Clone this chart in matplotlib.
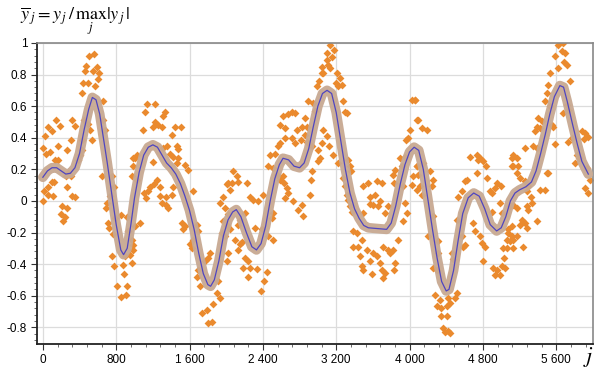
import numpy as np
import matplotlib
matplotlib.use('Agg')
import matplotlib.pyplot as plt
from matplotlib.ticker import MultipleLocator, FuncFormatter

# smoothed trend (blue line with grey band)
curve_j = [0, 50, 100, 150, 200, 250, 300, 350, 400, 450, 500, 540, 580, 620, 700, 750,
           800, 850, 880, 920, 960, 1000, 1050, 1100, 1150, 1200, 1250, 1300, 1350, 1400,
           1450, 1500, 1550, 1600, 1650, 1700, 1750, 1800, 1830, 1870, 1920, 1970, 2020,
           2070, 2110, 2160, 2220, 2280, 2330, 2380, 2430, 2480, 2530, 2580, 2620, 2680,
           2740, 2800, 2850, 2900, 2950, 3000, 3050, 3100, 3150, 3200, 3250, 3300, 3350,
           3400, 3450, 3500, 3550, 3650, 3750, 3800, 3850, 3900, 3950, 4000, 4050, 4100,
           4150, 4200, 4250, 4300, 4350, 4400, 4430, 4480, 4530, 4580, 4640, 4700, 4760,
           4820, 4880, 4950, 5000, 5050, 5100, 5150, 5200, 5270, 5330, 5380, 5430, 5480,
           5530, 5580, 5640, 5680, 5720, 5780, 5830, 5880, 5950]
curve_y = [0.15, 0.19, 0.21, 0.21, 0.19, 0.17, 0.175, 0.21, 0.30, 0.45, 0.58, 0.655, 0.64,
           0.55, 0.25, 0.05, -0.15, -0.31, -0.34, -0.30, -0.15, 0.02, 0.18, 0.29, 0.34,
           0.355, 0.34, 0.29, 0.24, 0.21, 0.17, 0.11, 0.03, -0.06, -0.18, -0.33, -0.46,
           -0.53, -0.54, -0.50, -0.38, -0.22, -0.12, -0.07, -0.055, -0.10, -0.20, -0.29,
           -0.31, -0.27, -0.16, 0.00, 0.14, 0.23, 0.27, 0.26, 0.22, 0.21, 0.24, 0.33, 0.47,
           0.60, 0.68, 0.70, 0.68, 0.56, 0.38, 0.20, 0.05, -0.05, -0.11, -0.155, -0.17,
           -0.175, -0.18, -0.14, -0.03, 0.11, 0.23, 0.31, 0.34, 0.32, 0.20, 0.01, -0.18,
           -0.36, -0.51, -0.57, -0.56, -0.44, -0.25, -0.08, 0.02, 0.05, 0.03, -0.05, -0.15,
           -0.19, -0.17, -0.10, 0.00, 0.05, 0.07, 0.09, 0.12, 0.19, 0.30, 0.42, 0.55, 0.66,
           0.73, 0.72, 0.63, 0.48, 0.36, 0.25, 0.17]

# raw normalised samples (orange diamonds)
pts_j = [
    503, 561, 466, 459, 586, 612, 550, 597, 441, 495, 568, 423, 659, 142, 59, 186, 102, 22,
    321, 350, 452, 495, 514, 532, 659, 677, 168, 259, 306, 423, 430, 0, 29, 77, 131, 168,
    386, 404, 641, 750, 776, 732, 277, 306, 95, 59, 124, 15, 59, 113, 0, 248, 259, 321, 350,
    204, 259, 197, 240, 222, 695, 684, 852, 914, 787, 706, 721, 768, 932, 750, 779, 896, 878,
    969, 889, 805, 914, 852, 903, 987,
    1131, 1222, 1113, 1332, 1313, 1222, 1259, 1295, 1204, 1441, 1502, 1404, 1088, 1022, 1004,
    986, 1350, 1313, 1459, 1477, 1386, 1422, 1477, 1459, 1204, 1550, 1586, 968, 1022, 1241,
    1211, 1277, 1168, 1150, 1102, 1124, 1277, 1342, 1404, 1422, 1295, 1368, 1342, 1641, 1059,
    1004, 1514, 1550, 1532, 1677, 1695, 968, 986, 979, 950, 1604, 1622, 1641, 1823, 1805,
    1768, 1950, 2005, 1968, 2023, 1986, 1932, 1968, 2005, 1695, 1677, 1714, 1914, 1895, 1932,
    1859, 1732, 1786, 1805, 1841,
    3041, 3059, 3012, 2986, 2896, 2950, 2623, 2714, 2750, 2677, 2968, 2859, 2586, 2641, 2768,
    2823, 2877, 2641, 2714, 2859, 2815, 2586, 2750, 2877, 2932, 3005, 2568, 2477, 2532, 2459,
    2514, 3023, 3005, 2550, 2623, 2586, 2634, 2022, 2041, 2077, 2113, 2059, 2131, 2222, 2932,
    2925, 2659, 2677, 2641, 2259, 2295, 2350, 2404, 2732, 2823, 2786, 2841, 2914, 2514, 2495,
    2150, 2131, 2204, 2004, 2041, 1986, 2095, 2150, 2131, 2168, 2313, 2386, 2459, 2514, 2204,
    2241, 2186, 2259, 2241, 2332, 2004, 2015, 2441, 2415, 2379,
    3132, 3176, 3096, 3150, 3096, 3114, 3132, 3041, 3205, 3241, 3198, 3259, 3223, 3270, 3296,
    3314, 3059, 3096, 3041, 3125, 3168, 3223, 3332, 3350, 3358, 3278, 3296, 3314, 3332, 3350,
    3368, 3489, 3550, 3649, 3696, 3569, 3623, 3678, 3605, 3569, 3660, 3496, 3732, 3769, 3816,
    3842, 3914, 3831, 3896, 3950, 3932, 3950, 3968, 3932, 3987, 4005, 3961, 4023, 4060, 4085,
    4078, 4042, 4031, 4085, 3387, 3423, 3478, 3441, 3387, 3459, 3532, 3605, 3641, 3478, 3496,
    3569, 3587, 3678, 3696, 3714, 3732, 3787, 3823, 3878, 3842, 3831, 3714, 3769,
    4060, 4096, 4133, 4187, 4078, 4096, 4151, 4115, 4133, 4224, 4260, 4242, 4205, 4315, 4260,
    4260, 4296, 4315, 4278, 4333, 4296, 4344, 4344, 4406, 4369, 4424, 4387, 4442, 4406, 4442,
    4424, 4460, 4478, 4497, 4515, 4515, 4587, 4606, 4569, 4533, 4569, 4606, 4624, 4660, 4733,
    4744, 4769, 4733, 4806, 4831, 4842, 4878, 4904, 4933, 4951, 4999, 4988, 5013, 4897, 4697,
    4715, 4769, 4788, 4824, 4806, 4915, 4951, 4988, 4933, 5006, 5035, 5024, 5060, 5079, 5115,
    5133, 5097, 5115, 5133,
    5624, 5679, 5660, 5697, 5588, 5617, 5690, 5715, 5533, 5515, 5497, 5752, 5479, 5533, 5679,
    5715, 5733, 5406, 5442, 5388, 5424, 5551, 5570, 5369, 5879, 5915, 5952, 5908, 5260, 5351,
    5388, 5588, 5733, 5770, 5133, 5169, 5115, 5188, 5824, 5850, 5806, 5169, 5497, 5515, 5424,
    5479, 5933, 5915, 5952, 5970, 5206, 5260, 5297, 5278, 5326, 5133, 5169, 5278, 5297, 5333,
    5224, 5260, 5206, 5278, 5388, 5078, 5115, 5169, 5097, 5060, 5133, 5242, 5042,
]
pts_y = [
    0.915, 0.93, 0.855, 0.82, 0.85, 0.81, 0.82, 0.77, 0.745, 0.745, 0.725, 0.68, 0.63, 0.51,
    0.47, 0.475, 0.44, 0.41, 0.51, 0.475, 0.51, 0.49, 0.45, 0.387, 0.51, 0.45, 0.35, 0.32,
    0.387, 0.387, 0.32, 0.334, 0.30, 0.31, 0.26, 0.26, 0.26, 0.29, 0.155, 0.155, 0.09, 0.03,
    0.175, 0.155, 0.12, 0.09, 0.12, 0.06, 0.04, 0.03, 0.0, 0.155, 0.09, 0.03, 0.025, -0.035,
    -0.045, -0.08, -0.10, -0.13, -0.015, -0.045, -0.09, -0.10, -0.11, -0.14, -0.17, -0.21,
    -0.19, -0.35, -0.415, -0.35, -0.405, -0.395, -0.46, -0.54, -0.54, -0.61, -0.595, 0.27,
    0.615, 0.615, 0.566, 0.566, 0.54, 0.50, 0.48, 0.47, 0.47, 0.47, 0.47, 0.42, 0.446, 0.29,
    0.27, 0.22, 0.35, 0.334, 0.345, 0.33, 0.30, 0.28, 0.27, 0.24, 0.244, 0.23, 0.197, 0.16,
    0.134, 0.13, 0.11, 0.09, 0.09, 0.06, 0.05, 0.018, 0.033, 0.028, 0.039, 0.09, -0.014,
    -0.045, -0.024, 0.06, -0.14, -0.16, -0.14, -0.16, -0.18, -0.15, -0.19, -0.25, -0.28,
    -0.31, -0.34, -0.27, -0.30, -0.25, -0.33, -0.36, -0.38, -0.20, -0.16, -0.13, -0.08,
    -0.045, -0.014, 0.028, 0.11, -0.44, -0.48, -0.54, -0.51, -0.58, -0.615, -0.65, -0.71,
    -0.69, -0.775, -0.765,
    0.85, 0.81, 0.756, 0.725, 0.63, 0.62, 0.535, 0.566, 0.556, 0.55, 0.57, 0.524, 0.48, 0.46,
    0.45, 0.47, 0.47, 0.40, 0.40, 0.42, 0.387, 0.366, 0.366, 0.376, 0.345, 0.32, 0.345, 0.29,
    0.30, 0.22, 0.21, 0.27, 0.25, 0.165, 0.155, 0.134, 0.113, 0.113, 0.07, 0.187, 0.155,
    0.113, 0.12, 0.113, 0.187, 0.134, 0.08, 0.05, 0.018, 0.028, 0.007, -0.003, 0.039, -0.003,
    -0.024, -0.056, -0.098, 0.039, -0.077, -0.11, -0.12, -0.15, -0.077, -0.15, -0.18, -0.225,
    -0.245, -0.27, -0.31, -0.26, -0.17, -0.18, -0.225, -0.245, -0.36, -0.38, -0.425, -0.425,
    -0.48, -0.43, -0.38, -0.33, -0.45, -0.51, -0.57,
    0.99, 0.957, 0.935, 0.914, 0.89, 0.86, 0.84, 0.81, 0.81, 0.777, 0.746, 0.735, 0.725,
    0.63, 0.566, 0.556, 0.45, 0.408, 0.366, 0.345, 0.29, 0.24, 0.26, 0.22, 0.187, 0.145,
    0.092, 0.039, 0.007, -0.035, -0.067, 0.092, 0.113, 0.124, 0.113, 0.028, 0.039, -0.003,
    -0.024, -0.018, -0.03, -0.077, -0.077, -0.035, 0.165, 0.197, 0.22, 0.113, 0.27, 0.28,
    0.092, -0.014, -0.077, -0.13, 0.397, 0.45, 0.387, 0.64, 0.64, 0.514, 0.22, 0.155, 0.102,
    0.07, -0.19, -0.20, -0.245, -0.29, -0.29, -0.35, -0.31, -0.33, -0.35, -0.415, -0.435,
    -0.38, -0.46, -0.395, -0.435, -0.49, -0.455, -0.33, -0.31, -0.245, -0.395, -0.435, -0.29,
    -0.31,
    0.64, 0.51, 0.46, 0.45, 0.22, 0.165, 0.24, 0.092, 0.039, 0.187, 0.134, 0.092, -0.225,
    -0.256, -0.098, -0.425, -0.435, -0.33, -0.594, -0.625, -0.668, -0.68, -0.73, -0.73,
    -0.805, -0.826, -0.83, -0.837, -0.668, -0.647, -0.615, -0.33, -0.37, -0.615, -0.58,
    -0.12, -0.29, -0.28, -0.225, 0.028, 0.06, 0.124, 0.134, 0.28, 0.29, 0.26, 0.27, 0.176,
    0.25, 0.22, 0.144, 0.06, 0.05, 0.08, 0.113, 0.092, -0.014, -0.077, -0.067, -0.14, -0.19,
    -0.225, -0.267, -0.29, -0.38, -0.425, -0.436, -0.467, -0.467, -0.415, -0.36, -0.30,
    -0.245, -0.204, -0.16, -0.245, -0.035, 0.27, 0.22,
    0.99, 1.0, 0.946, 0.936, 0.915, 0.84, 0.88, 0.862, 0.81, 0.735, 0.682, 0.756, 0.63, 0.60,
    0.556, 0.61, 0.577, 0.524, 0.503, 0.47, 0.46, 0.48, 0.47, 0.44, 0.44, 0.43, 0.404, 0.39,
    0.334, 0.345, 0.334, 0.36, 0.376, 0.397, 0.29, 0.27, 0.22, 0.22, 0.29, 0.27, 0.24, 0.176,
    0.176, 0.176, 0.07, 0.07, 0.207, 0.081, 0.05, 0.134, 0.144, 0.124, 0.092, 0.06, 0.028,
    -0.024, -0.045, -0.035, -0.056, -0.014, -0.12, -0.14, -0.15, -0.17, -0.13, -0.18, -0.225,
    -0.225, -0.256, -0.30, -0.30, -0.29, -0.425,
]

plt.rcParams['font.family'] = ['Liberation Sans', 'DejaVu Sans']
plt.rcParams['mathtext.fontset'] = 'stix'
plt.rcParams['axes.unicode_minus'] = False

fig = plt.figure(figsize=(6.05, 3.8), dpi=100)
ax = fig.add_axes([0.061, 0.095, 0.919, 0.792])

ax.scatter(pts_j, pts_y, marker='D', s=16, color='#ea8a2e', linewidths=0, zorder=2,
           clip_on=True)
ax.plot(curve_j, curve_y, color='#c8a992', lw=7, solid_capstyle='round', alpha=0.95, zorder=3)
ax.plot(curve_j, curve_y, color='#4f45c0', lw=0.9, zorder=4)

ax.set_xlim(-65, 6000)
ax.set_ylim(-0.905, 1.0)

ax.xaxis.set_major_locator(MultipleLocator(800))
ax.xaxis.set_minor_locator(MultipleLocator(160))
ax.yaxis.set_major_locator(MultipleLocator(0.2))
ax.yaxis.set_minor_locator(MultipleLocator(0.04))
ax.xaxis.set_major_formatter(FuncFormatter(lambda v, p: f'{v:,.0f}'.replace(',', ' ')))
ax.yaxis.set_major_formatter(FuncFormatter(lambda v, p: f'{round(v, 1):g}'))

ax.grid(True, which='major', color='#dcdcdc', lw=0.9, zorder=0)
ax.set_axisbelow(True)
ax.tick_params(which='major', length=4, width=0.8, color='#333333', labelsize=8.5, pad=3)
ax.tick_params(which='minor', length=2, width=0.6, color='#555555')

for s in ['left', 'bottom']:
    ax.spines[s].set_color('#222222')
    ax.spines[s].set_linewidth(1.3)
for s in ['top', 'right']:
    ax.spines[s].set_color('#888888')
    ax.spines[s].set_linewidth(1.2)

fig.text(0.033, 0.985, r'$\overline{y}_{\,j} = y_{\,j}\,/\,\max_j \vert y_{\,j}\vert$',
         fontsize=13, va='top', ha='left')
fig.text(0.972, 0.03, r'$j$', fontsize=16, ha='center', va='bottom')

fig.savefig('out.png', dpi=100)
